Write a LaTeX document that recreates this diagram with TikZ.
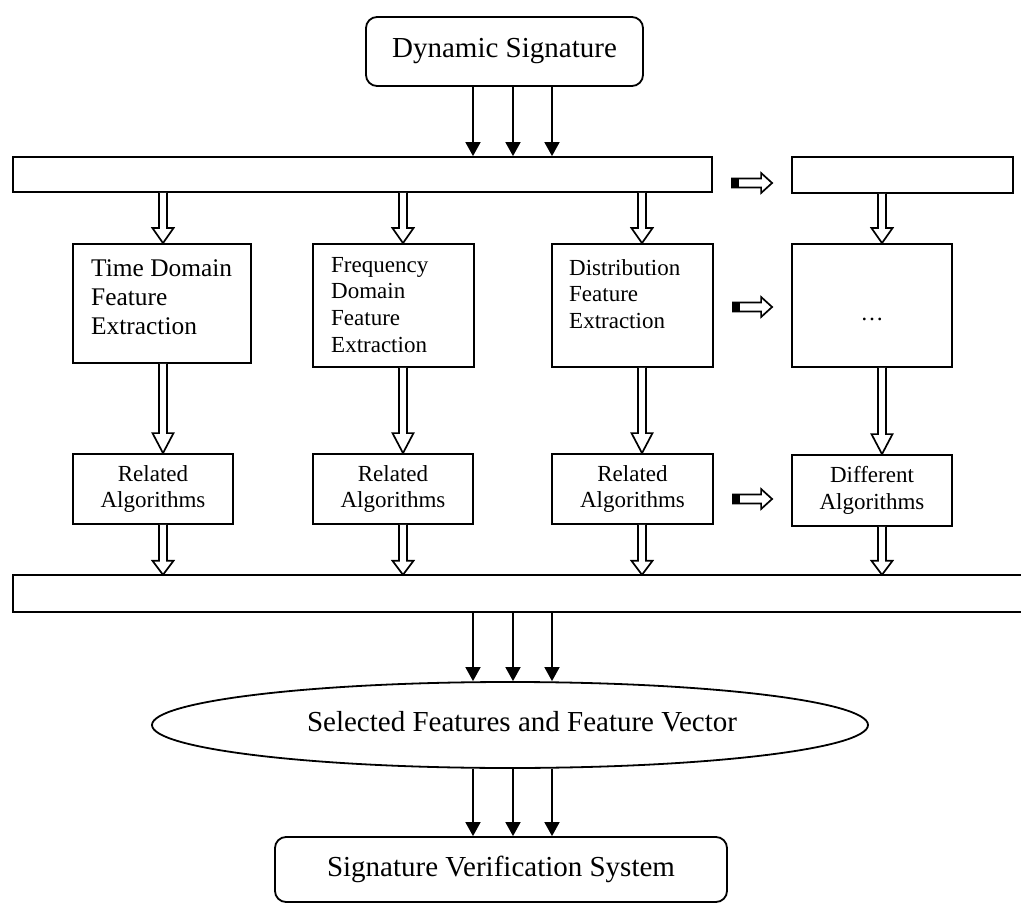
\documentclass[tikz,border=0pt]{standalone}
\usepackage{fontspec}
\setmainfont{Liberation Serif}
\usetikzlibrary{arrows.meta,shapes.geometric,calc}
\newcommand{\hollowdown}[3]{%
  \draw[harrow] let \p1=(#1), \p2=(#2) in
    (\x2-4pt,\y1) -- (\x2-4pt,\y2+#3) -- (\x2-10.5pt,\y2+#3) -- (\x2,\y2)
    -- (\x2+10.5pt,\y2+#3) -- (\x2+4pt,\y2+#3) -- (\x2+4pt,\y1);}
\newcommand{\hollowright}[3]{%
  \path let \p1=([yshift=#3]#1.east), \p2=(#2.west) in
    coordinate (ha) at (\x1+19pt,\y1) coordinate (hb) at (\x2-19pt,\y1);
  \draw[harrow] let \p1=(ha), \p2=(hb) in
    (\x1,\y1+4.5pt) -- (\x2-11pt,\y1+4.5pt) -- (\x2-11pt,\y1+10pt) -- (\x2,\y1)
    -- (\x2-11pt,\y1-10pt) -- (\x2-11pt,\y1-4.5pt) -- (\x1,\y1-4.5pt) -- cycle;
  \fill let \p1=(ha) in (\x1,\y1-4.5pt) rectangle (\x1+7pt,\y1+4.5pt);}
\begin{document}
\begin{tikzpicture}[x=1pt,y=-1pt,
  box/.style={draw, line width=1.8pt, inner sep=0pt},
  rbox/.style={box, rounded corners=11pt},
  bigtxt/.style={font=\fontsize{29}{34}\selectfont},
  midtxt/.style={font=\fontsize{23}{26.7}\selectfont},
  tarrow/.style={line width=1.8pt, -{Triangle[length=14pt,width=15pt]}},
  harrow/.style={draw, line width=1.7pt, fill=white, line join=miter}]
\useasboundingbox[fill=white] (0,0) rectangle (1021,904);
% column coordinates
\coordinate (c1) at (163,0);
\coordinate (c2) at (403,0);
\coordinate (c3) at (642,0);
\coordinate (c4) at (882,0);
\coordinate (a1) at (473,0);
\coordinate (a2) at (513,0);
\coordinate (a3) at (552,0);
% nodes
\node[rbox, bigtxt, minimum width=277pt, minimum height=69pt] (ds) at (504.5,51.5) {Dynamic Signature};
\node[box, minimum width=699pt, minimum height=35pt] (topbar) at (362.5,174.5) {};
\node[box, minimum width=221pt, minimum height=36pt] (rbar) at (902.5,175) {};
\node[box, minimum width=178pt, minimum height=119pt] (b1) at (162,303.5) {};
\node[box, minimum width=161pt, minimum height=123pt] (b2) at (393.5,305.5) {};
\node[box, minimum width=161pt, minimum height=123pt] (b3) at (632.5,305.5) {};
\node[box, minimum width=160pt, minimum height=123pt] (b4) at (872,305.5) {};
\node[anchor=north west, inner sep=0pt, align=left, font=\fontsize{25.4}{29}\selectfont] (t1) at (91,259) {Time Domain\\Feature\\Extraction};
\node[anchor=north west, inner sep=0pt, align=left, midtxt] (t2) at (331,257) {Frequency\\Domain\\Feature\\Extraction};
\node[anchor=north west, inner sep=0pt, align=left, midtxt] (t3) at (569,259) {Distribution\\Feature\\Extraction};
\node[anchor=base, midtxt] (t4) at (872,321) {\dots};
\node[box, midtxt, align=center, minimum width=160pt, minimum height=70pt] (r1) at (153,489) {Related\\Algorithms};
\node[box, midtxt, align=center, minimum width=160pt, minimum height=70pt] (r2) at (393,489) {Related\\Algorithms};
\node[box, midtxt, align=center, minimum width=161pt, minimum height=70pt] (r3) at (632.5,489) {Related\\Algorithms};
\node[box, midtxt, align=center, minimum width=160pt, minimum height=71pt] (r4) at (872,490.5) {Different\\Algorithms};
\node[inner sep=0pt, minimum width=1008pt, minimum height=37pt, anchor=west] (botbar) at (13,593.5) {};
\draw[line width=1.8pt] (botbar.north east) -- (botbar.north west) -- (botbar.south west) -- (botbar.south east);
\node[ellipse, draw, line width=1.8pt, inner sep=0pt, minimum width=716pt, minimum height=86pt] (ell) at (510,725) {};
\node[bigtxt] (et) at (522,722) {Selected Features and Feature Vector};
\node[rbox, bigtxt, minimum width=452pt, minimum height=65pt] (sv) at (501,869.5) {Signature Verification System};
% thin arrows
\foreach \a in {a1,a2,a3} {
  \draw[tarrow] (ds.south -| \a) -- (topbar.north -| \a);
  \draw[tarrow] (botbar.south -| \a) -- (ell.north -| \a);
  \draw[tarrow] (ell.south -| \a) -- (sv.north -| \a);
}
% hollow down arrows
\hollowdown{topbar.south -| c1}{b1.north -| c1}{15pt}
\hollowdown{topbar.south -| c2}{b2.north -| c2}{15pt}
\hollowdown{topbar.south -| c3}{b3.north -| c3}{15pt}
\hollowdown{rbar.south -| c4}{b4.north -| c4}{15pt}
\hollowdown{b1.south -| c1}{r1.north -| c1}{20pt}
\hollowdown{b2.south -| c2}{r2.north -| c2}{20pt}
\hollowdown{b3.south -| c3}{r3.north -| c3}{20pt}
\hollowdown{b4.south -| c4}{r4.north -| c4}{20pt}
\hollowdown{r1.south -| c1}{botbar.north -| c1}{14pt}
\hollowdown{r2.south -| c2}{botbar.north -| c2}{14pt}
\hollowdown{r3.south -| c3}{botbar.north -| c3}{14pt}
\hollowdown{r4.south -| c4}{botbar.north -| c4}{14pt}
% hollow right arrows
\hollowright{topbar}{rbar}{-8.5pt}
\hollowright{b3}{b4}{-1.5pt}
\hollowright{r3}{r4}{-10pt}
\end{tikzpicture}
\end{document}
